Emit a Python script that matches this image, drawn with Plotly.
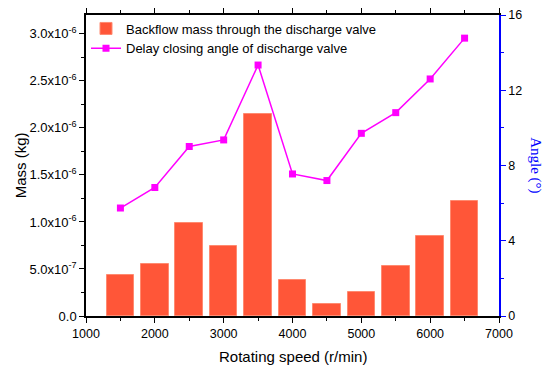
import plotly.graph_objects as go

speeds = [1500, 2000, 2500, 3000, 3500, 4000, 4500, 5000, 5500, 6000, 6500]
mass = [0.433e-6, 0.556e-6, 0.99e-6, 0.747e-6, 2.15e-6, 0.388e-6, 0.127e-6, 0.257e-6, 0.528e-6, 0.848e-6, 1.222e-6]
angle = [5.74, 6.83, 9.01, 9.36, 13.34, 7.55, 7.2, 9.71, 10.81, 12.6, 14.77]

mass_ticks = [0, 0.5e-6, 1.0e-6, 1.5e-6, 2.0e-6, 2.5e-6, 3.0e-6]
mass_ticktext = ["0.0", "5.0x10<sup>-7</sup>", "1.0x10<sup>-6</sup>", "1.5x10<sup>-6</sup>",
                 "2.0x10<sup>-6</sup>", "2.5x10<sup>-6</sup>", "3.0x10<sup>-6</sup>"]
x_ticks = [1000, 2000, 3000, 4000, 5000, 6000, 7000]
angle_ticks = [0, 4, 8, 12, 16]

font = "Liberation Sans, Arial, sans-serif"

fig = go.Figure()
fig.add_trace(go.Bar(
    x=speeds, y=mass, width=400, name="Backflow mass through the discharge valve",
    marker=dict(color="#FF5638", line=dict(color="#FF8A70", width=1)),
))
fig.add_trace(go.Scatter(
    x=speeds, y=angle, yaxis="y2", mode="lines+markers",
    name="Delay closing angle of discharge valve",
    line=dict(color="#FF00FF", width=1.5),
    marker=dict(symbol="square", size=7, color="#FF00FF"),
))

# page body has an 8px default margin, so the figure is 8px smaller
fig.update_layout(
    width=542, height=363,
    margin=dict(l=78, r=51, t=5, b=55),
    plot_bgcolor="white", paper_bgcolor="white",
    font=dict(family=font, size=12, color="black"),
    bargap=0,
    showlegend=True,
    legend=dict(x=0.0, y=1.005, xanchor="left", yanchor="top",
                bgcolor="rgba(0,0,0,0)", font=dict(size=13, family=font),
                tracegroupgap=0, itemwidth=30),
    xaxis=dict(
        range=[1000, 7000], tickvals=x_ticks, showline=True, linecolor="black", linewidth=1.5,
        ticks="outside", ticklen=5, tickcolor="black", mirror="ticks", showgrid=False, zeroline=False,
        minor=dict(ticks="outside", ticklen=3, dtick=500, tick0=1000, tickcolor="black"),
        tickfont=dict(size=12.5), automargin=False,
    ),
    yaxis=dict(
        range=[0, 3.2e-6], tickvals=mass_ticks, ticktext=mass_ticktext, showline=True,
        linecolor="black", linewidth=1.5, ticks="outside", ticklen=5, tickcolor="black",
        showgrid=False, zeroline=False,
        minor=dict(ticks="outside", ticklen=3, dtick=0.25e-6, tick0=0, tickcolor="black"),
        tickfont=dict(size=13), automargin=False,
    ),
    yaxis2=dict(
        range=[0, 16], tickvals=angle_ticks, overlaying="y", side="right", showline=True,
        linecolor="#0000FF", linewidth=1.5, ticks="outside", ticklen=5, tickcolor="#0000FF",
        showgrid=False, zeroline=False,
        minor=dict(ticks="outside", ticklen=3, dtick=2, tick0=0, tickcolor="#0000FF"),
        tickfont=dict(size=12.5, color="black"), automargin=False,
    ),
    annotations=[
        dict(text="Rotating speed (r/min)", xref="paper", yref="paper", x=0.5, y=-0.135,
             showarrow=False, font=dict(size=15, family=font), xanchor="center", yanchor="middle"),
        dict(text="Mass (kg)", xref="paper", yref="paper", x=-0.158, y=0.5, showarrow=False,
             textangle=-90, font=dict(size=15, family=font), xanchor="center", yanchor="middle"),
        dict(text="Angle (°)", xref="paper", yref="paper", x=1.088, y=0.5, showarrow=False,
             textangle=90, font=dict(family="Liberation Serif, Times New Roman, serif", size=15, color="#0000FF"),
             xanchor="center", yanchor="middle"),
    ],
)

fig.write_html("out.html")
